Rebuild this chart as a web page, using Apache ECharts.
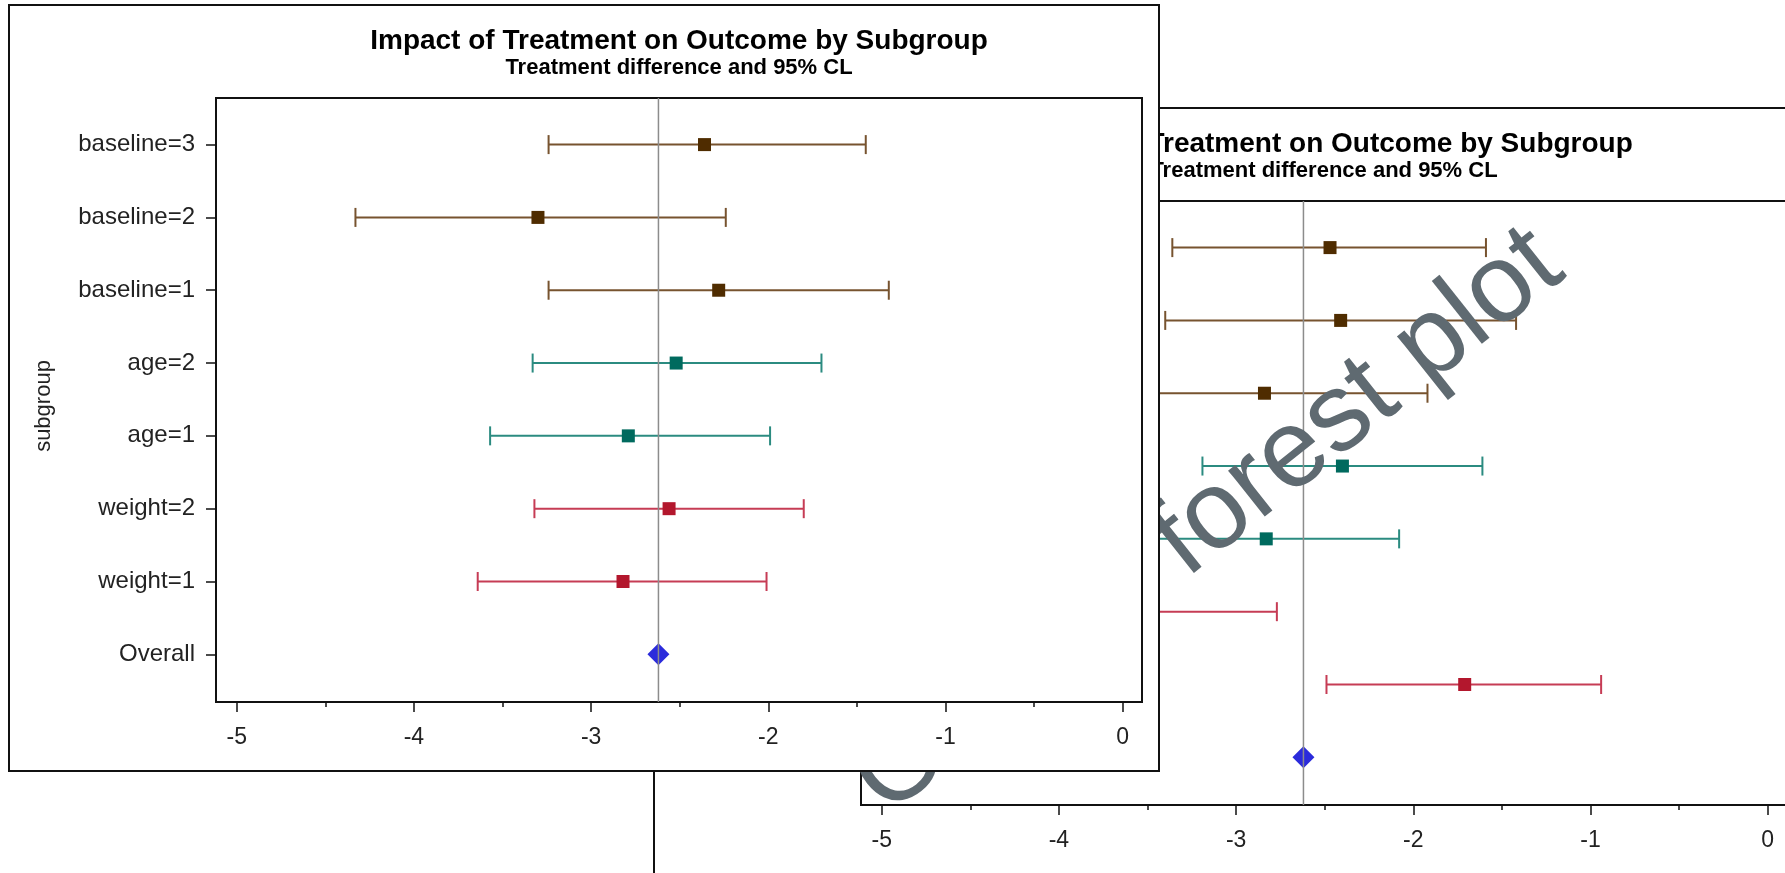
<!DOCTYPE html>
<html>
<head>
<meta charset="utf-8">
<title>Impact of Treatment on Outcome by Subgroup</title>
<script src="https://cdn.jsdelivr.net/npm/echarts@6/dist/echarts.min.js"></script>
<style>
  html, body { margin: 0; padding: 0; background: #fff; width: 1785px; height: 873px; overflow: hidden; }
  .panel { position: absolute; width: 1148px; height: 764px; border: 2px solid #111; background: #fff; }
  #back { left: 653px; top: 107px; }
  #front { left: 8px; top: 4px; }
</style>
</head>
<body>
<div id="back" class="panel"></div>
<div id="front" class="panel"></div>
<script>
// subgroup rows, top to bottom (Overall is the last row)
const subgroups = ['baseline=3', 'baseline=2', 'baseline=1', 'age=2', 'age=1', 'weight=2', 'weight=1', 'Overall'];
const groupOf = ['baseline', 'baseline', 'baseline', 'age', 'age', 'weight', 'weight'];
const xTicks = [-5, -4, -3, -2, -1, 0];
const xMinorTicks = [-4.5, -3.5, -2.5, -1.5, -0.5];

// front plot: estimate and 95% CL
const frontEst = [-2.36, -3.30, -2.28, -2.52, -2.79, -2.56, -2.82];
const frontLow = [-3.24, -4.33, -3.24, -3.33, -3.57, -3.32, -3.64];
const frontHigh = [-1.45, -2.24, -1.32, -1.70, -1.99, -1.80, -2.01];
const frontOverall = -2.62;

// back plot (partly hidden behind the front one)
const backEst = [-2.47, -2.41, -2.84, -2.40, -2.83, -3.60, -1.71];
const backLow = [-3.36, -3.40, -3.76, -3.19, -3.58, -4.43, -2.49];
const backHigh = [-1.59, -1.42, -1.92, -1.61, -2.08, -2.77, -0.94];
const backOverall = -2.62;

// colours per group
const lineColor = { baseline: '#77532f', age: '#2b8b80', weight: '#c63c55' };
const markColor = { baseline: '#4f2c00', age: '#006a5e', weight: '#b3172d' };

const FONT = "'Liberation Sans', Arial, sans-serif";
const rowY = i => subgroups.length - i;   // row index -> y value (8 .. 1)

function buildOption(est, low, high, overall, extra) {
    const series = [];
    ['baseline', 'age', 'weight'].forEach(g => {
        const idx = est.map((_, i) => i).filter(i => groupOf[i] === g);
        // error bars with caps
        series.push({
            type: 'custom',
            z: 2,
            data: idx.map(i => [low[i], high[i], rowY(i)]),
            encode: { x: [0, 1], y: 2 },
            renderItem: (params, api) => {
                const y = api.value(2);
                const a = api.coord([api.value(0), y]);
                const b = api.coord([api.value(1), y]);
                const h = 9.5;
                const style = { stroke: lineColor[g], lineWidth: 2 };
                return {
                    type: 'group',
                    children: [
                        { type: 'line', shape: { x1: a[0], y1: a[1], x2: b[0], y2: b[1] }, style },
                        { type: 'line', shape: { x1: a[0], y1: a[1] - h, x2: a[0], y2: a[1] + h }, style },
                        { type: 'line', shape: { x1: b[0], y1: b[1] - h, x2: b[0], y2: b[1] + h }, style }
                    ]
                };
            }
        });
        // point estimates
        series.push({
            type: 'scatter',
            z: 3,
            symbol: 'rect',
            symbolSize: 13,
            itemStyle: { color: markColor[g], opacity: 1 },
            data: idx.map(i => [est[i], rowY(i)])
        });
    });
    // overall estimate
    series.push({
        type: 'scatter',
        z: 3,
        symbol: 'diamond',
        symbolSize: 22,
        itemStyle: { color: '#2b2bdb', opacity: 1 },
        data: [[overall, 1]]
    });
    // reference line at the overall estimate
    series.push({
        type: 'custom',
        z: 5,
        data: [[overall, 1]],
        renderItem: (params, api) => {
            const x = api.coord([api.value(0), 1])[0];
            const cs = params.coordSys;
            return {
                type: 'line',
                shape: { x1: x, y1: cs.y, x2: x, y2: cs.y + cs.height },
                style: { stroke: '#8c8c8c', lineWidth: 1.5 }
            };
        }
    });

    const graphic = [
        {
            type: 'text', x: 669, y: 35, z: 10,
            style: { text: 'Impact of Treatment on Outcome by Subgroup', font: 'bold 28px ' + FONT,
                     fill: '#000', align: 'center', verticalAlign: 'middle' }
        },
        {
            type: 'text', x: 669, y: 62, z: 10,
            style: { text: 'Treatment difference and 95% CL', font: 'bold 22px ' + FONT,
                     fill: '#000', align: 'center', verticalAlign: 'middle' }
        },
        {
            type: 'text', x: 34, y: 400, rotation: Math.PI / 2, z: 10,
            style: { text: 'subgroup', font: '22px ' + FONT, fill: '#222',
                     align: 'center', verticalAlign: 'middle' }
        }
    ].concat(extra || []);

    return {
        animation: false,
        backgroundColor: '#fff',
        grid: { left: 206, top: 92, right: 16, bottom: 68, show: true, borderColor: '#111', borderWidth: 2 },
        xAxis: [
            {
                type: 'value', min: -5.117, max: 0.109,
                axisLine: { show: false, onZero: false },
                splitLine: { show: false },
                axisTick: { show: true, length: 10, customValues: xTicks, lineStyle: { color: '#111', width: 1.5 } },
                axisLabel: { customValues: xTicks, margin: 24, fontSize: 23, color: '#222', fontFamily: FONT }
            },
            {
                type: 'value', min: -5.117, max: 0.109, position: 'bottom',
                axisLine: { show: false, onZero: false },
                splitLine: { show: false },
                axisTick: { show: true, length: 5, customValues: xMinorTicks, lineStyle: { color: '#111', width: 1.5 } },
                axisLabel: { show: false }
            }
        ],
        yAxis: {
            type: 'value', min: 0.345, max: 8.64,
            axisLine: { show: false, onZero: false },
            splitLine: { show: false },
            axisTick: { show: true, length: 10, customValues: [1, 2, 3, 4, 5, 6, 7, 8], lineStyle: { color: '#111', width: 1.5 } },
            axisLabel: {
                customValues: [1, 2, 3, 4, 5, 6, 7, 8],
                margin: 21, fontSize: 24, color: '#222', fontFamily: FONT,
                formatter: v => subgroups[subgroups.length - Math.round(v)]
            }
        },
        graphic: graphic,
        series: series
    };
}

// watermark sits on the back plot, under the front one
const watermark = {
    type: 'text', x: 213, y: 684, rotation: 38.5 * Math.PI / 180, z: 100,
    style: { text: 'Overall forest plot', font: '111px ' + FONT, fill: '#5f6a71',
             align: 'left', verticalAlign: 'middle' }
};

const backChart = echarts.init(document.getElementById('back'));
backChart.setOption(buildOption(backEst, backLow, backHigh, backOverall, [watermark]));

const frontChart = echarts.init(document.getElementById('front'));
frontChart.setOption(buildOption(frontEst, frontLow, frontHigh, frontOverall));
</script>
</body>
</html>
